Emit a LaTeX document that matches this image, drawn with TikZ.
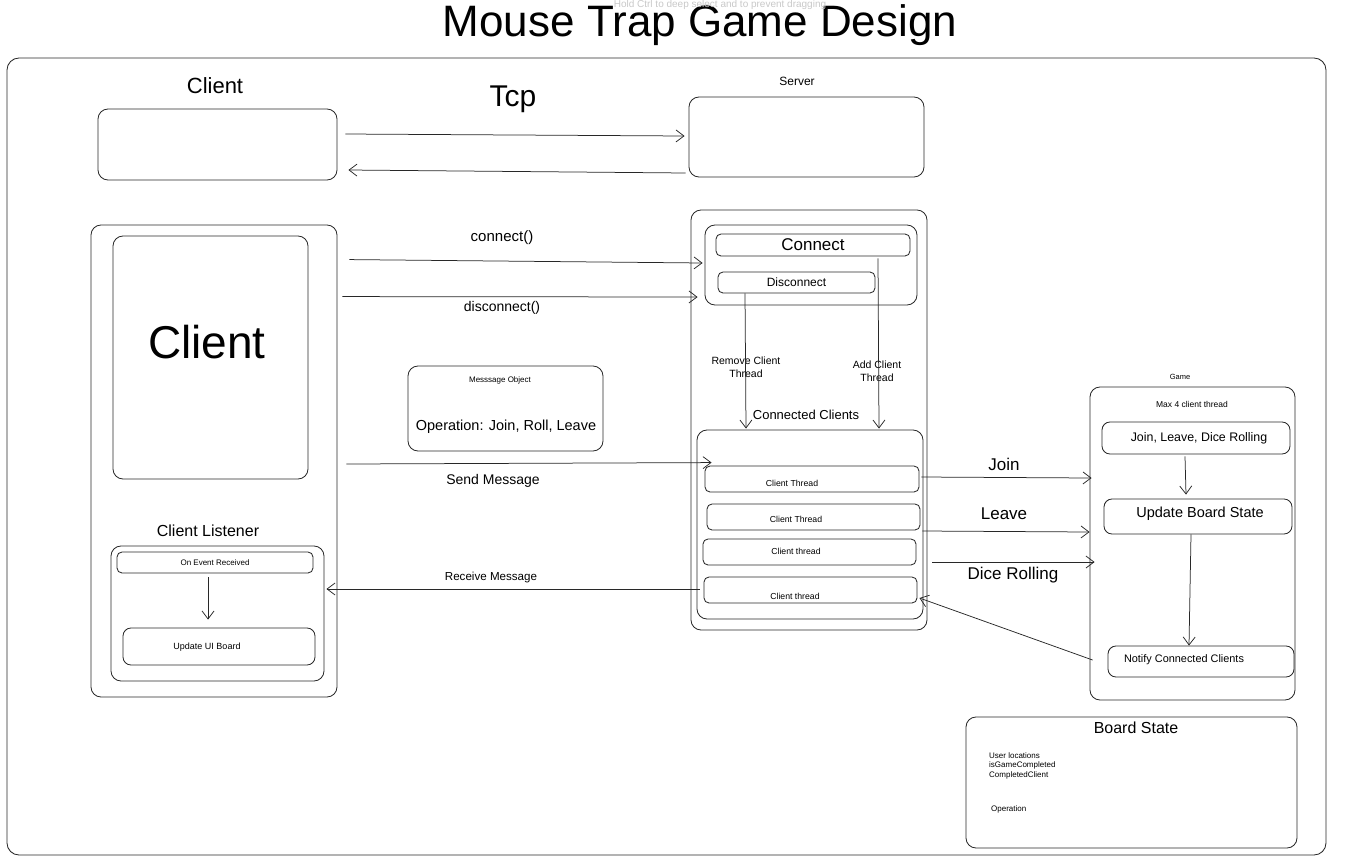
\documentclass[tikz,border=0pt]{standalone}
\usepackage{fontspec}
\setmainfont{Liberation Sans}
\usetikzlibrary{arrows.meta,fit,calc}
\definecolor{ln}{RGB}{40,40,40}
\definecolor{hint}{RGB}{200,200,200}
\newcommand\fz[2]{\fontsize{#1}{#2}\selectfont}
\begin{document}
\begin{tikzpicture}[x=1pt,y=-1pt,
  box/.style={draw=ln, line width=0.85pt, rounded corners=10pt, inner sep=0pt},
  sbox/.style={draw=ln, line width=0.85pt, rounded corners=5pt, inner sep=0pt},
  lbl/.style={inner sep=0pt, text=black},
  arr/.style={draw=ln, line width=0.75pt, -{Straight Barb[length=8pt,width=12pt]}}]
\useasboundingbox (0,0) rectangle (1360,857);
% title
\node[lbl, font=\fz{44}{50}, anchor=base] (title) at (700,36) {Mouse Trap Game Design};
\node[lbl, text=hint, font=\fz{10}{12}] (hint) at (720,5) {Hold Ctrl to deep select and to prevent dragging};
% outer frame
\node[box, rounded corners=12pt, fit={(7,58) (1326,855)}] (frame) {};
% top row
\node[lbl, font=\fz{22}{26}] (tcllbl) at (215,86) {Client};
\node[box, fit={(98,109) (337,180)}] (tcl) {};
\node[lbl, font=\fz{30}{34}] (tcp) at (513,99) {Tcp};
\node[lbl, font=\fz{12}{14}] (srvlbl) at (797,81) {Server};
\node[box, fit={(689,97) (924,177)}] (srv) {};
\draw[arr] ($(tcl.east)+(8,-10.5)$) -- ($(srv.west)+(-4,-1)$);
\draw[arr] ($(srv.west)+(-3,36)$) -- ($(tcl.east)+(11,25.5)$);
% client side
\node[box, fit={(91,225) (337,697)}] (cli) {};
\node[box, fit={(113,236) (308,479)}] (clin) {};
\node[lbl, font=\fz{46}{50}] (clitxt) at (207,342) {Client};
\node[lbl, font=\fz{16}{18}] (lstlbl) at (208,531) {Client Listener};
\node[box, fit={(111,546) (324,681)}] (lst) {};
\node[sbox, fit={(117,552) (313,573)}] (oer) {};
\node[lbl, font=\fz{8}{10}] (oertxt) at (oer) {On Event Received};
\node[sbox, rounded corners=8pt, fit={(123,628) (315,665)}] (uib) {};
\node[lbl, font=\fz{9}{11}] (uibtxt) at (207,647) {Update UI Board};
\draw[arr] ($(oer.south)+(-7,4)$) -- ($(uib.north)+(-11,-8)$);
% message object
\node[box, fit={(408,366) (603,451)}] (msg) {};
\node[lbl, font=\fz{8}{10}] (msgttl) at (500,380) {Messsage Object};
\node[lbl, font=\fz{14.5}{17}] (msgop) at (506,427) {Operation: Join, Roll, Leave};
% server side
\node[box, fit={(691,210) (927,630)}] (srvc) {};
\node[box, fit={(705,225) (917,305)}] (conbox) {};
\node[sbox, fit={(716,234) (910,256)}] (conn) {};
\node[lbl, font=\fz{17}{20}] (conntxt) at (conn) {Connect};
\node[sbox, fit={(718,272) (875,293)}] (disc) {};
\node[lbl, font=\fz{12}{14}] (disctxt) at (disc) {Disconnect};
\node[lbl, font=\fz{13}{15}] (cclbl) at (806,415) {Connected Clients};
\node[box, fit={(697,430) (923,619)}] (cc) {};
\node[sbox, fit={(705,466) (919,492)}] (ct1) {};
\node[lbl, font=\fz{8.7}{10}] (ct1t) at (792,483) {Client Thread};
\node[sbox, fit={(707,504) (920,530)}] (ct2) {};
\node[lbl, font=\fz{8.7}{10}] (ct2t) at (796,519) {Client Thread};
\node[sbox, fit={(703,539) (916,565)}] (ct3) {};
\node[lbl, font=\fz{8.7}{10}] (ct3t) at (796,551) {Client thread};
\node[sbox, fit={(704,577) (917,603)}] (ct4) {};
\node[lbl, font=\fz{8.7}{10}] (ct4t) at (795,596) {Client thread};
\node[lbl, font=\fz{10.5}{12.5}, align=center] (remlbl) at (746,367) {Remove Client\\Thread};
\node[lbl, font=\fz{10.5}{12.5}, align=center] (addlbl) at (877,371) {Add Client\\Thread};
\draw[arr] ($(disc.south)+(-51.5,0)$) -- ($(cc.north)+(-64,-1)$);
\draw[arr] ($(conn.south)+(65,2)$) -- ($(cc.north)+(69,-1)$);
% client <-> server arrows
\node[lbl, font=\fz{15}{18}] (conlbl) at (502,238) {connect()};
\draw[arr] ($(cli.north east)+(12,35)$) -- ($(conbox.west)+(-2,-2)$);
\node[lbl, font=\fz{14}{17}] (dislbl) at (502,308) {disconnect()};
\draw[arr] ($(cli.north east)+(5,72)$) -- ($(conbox.west)+(-7,32)$);
\node[lbl, font=\fz{14}{17}] (sndlbl) at (493,481) {Send Message};
\draw[arr] ($(cli.east)+(9,3)$) -- ($(cc.north west)+(15,33)$);
\node[lbl, font=\fz{11.6}{14}] (rcvlbl) at (491,577) {Receive Message};
\draw[arr] ($(ct4.west)+(-4,-1)$) -- ($(lst.east)+(2,-24.5)$);
% game
\node[lbl, font=\fz{7.5}{9}] (gamelbl) at (1180,377) {Game};
\node[box, fit={(1090,387) (1295,700)}] (game) {};
\node[lbl, font=\fz{8.5}{10}] (maxlbl) at (1192,404) {Max 4 client thread};
\node[sbox, rounded corners=8pt, fit={(1102,422) (1290,454)}] (jld) {};
\node[lbl, font=\fz{12.4}{15}] (jldt) at (1199,438) {Join, Leave, Dice Rolling};
\node[sbox, rounded corners=8pt, fit={(1104,499) (1292,534)}] (ubs) {};
\node[lbl, font=\fz{14.5}{17}] (ubst) at (1200,514) {Update Board State};
\node[sbox, rounded corners=8pt, fit={(1108,646) (1294,677)}] (ncc) {};
\node[lbl, font=\fz{10.9}{13}] (ncct) at (1184,660) {Notify Connected Clients};
\draw[arr] ($(jld.south)+(-11,2)$) -- ($(ubs.north)+(-12,-4)$);
\draw[arr] ($(ubs.south)+(-7,0)$) -- ($(ncc.north)+(-12,0)$);
% server -> game arrows
\node[lbl, font=\fz{17}{20}] (joinlbl) at (1004,464) {Join};
\draw[arr] ($(ct1.east)+(2,-2)$) -- ($(game.west)+(2,-65.5)$);
\node[lbl, font=\fz{17}{20}] (leavelbl) at (1004,514) {Leave};
\draw[arr] ($(ct2.east)+(2,14)$) -- ($(game.west)+(0,-11.5)$);
\node[lbl, font=\fz{17}{20}] (dicelbl) at (1013,575) {Dice Rolling};
\draw[arr] ($(ct3.east)+(16,10)$) -- ($(game.west)+(5,18.5)$);
\draw[arr] ($(ncc.west)+(-15,-1.5)$) -- ($(ct4.east)+(2,8)$);
% board state
\node[box, fit={(966,717) (1297,848)}] (bs) {};
\node[lbl, font=\fz{16}{19}] (bslbl) at (1136,728) {Board State};
\node[lbl, font=\fz{8}{9.5}, align=left, anchor=north west] (bsf) at (989,752) {User locations\\isGameCompleted\\CompletedClient};
\node[lbl, font=\fz{8}{9.5}, anchor=west] (bsop) at (991,809) {Operation};
\end{tikzpicture}
\end{document}
